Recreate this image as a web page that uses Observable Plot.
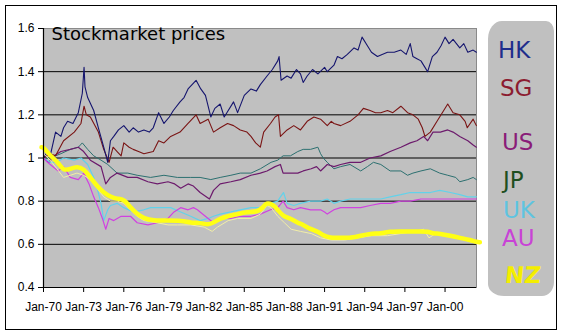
<!DOCTYPE html>
<html>
<head>
<meta charset="utf-8">
<script src="https://cdn.jsdelivr.net/npm/d3@7"></script>
<script src="https://cdn.jsdelivr.net/npm/@observablehq/plot@0.6"></script>
<style>
  html, body { margin: 0; padding: 0; background: #fff; }
  #wrap { position: relative; width: 562px; height: 336px; overflow: hidden; }
  #wrap svg { position: absolute; left: 0; top: 0; }
  #frame { position: absolute; left: 5px; top: 5px; width: 550px; height: 323px; border: 1.5px solid #000; pointer-events: none; }
  #blob { position: absolute; left: 488px; top: 21px; width: 66px; height: 275px; background: #c0c0c0;
          border-radius: 14px 8px 12px 16px / 18px 10px 14px 12px; }
  .lg { position: absolute; font-family: "DejaVu Sans", sans-serif; font-size: 23px; line-height: 23px; white-space: nowrap; }
</style>
</head>
<body>
<div id="wrap"></div>
<script>
// ---- axis ticks ----
const xTicks = [1970, 1973, 1976, 1979, 1982, 1985, 1988, 1991, 1994, 1997, 2000];
const xTickLabels = ["Jan-70", "Jan-73", "Jan-76", "Jan-79", "Jan-82", "Jan-85", "Jan-88", "Jan-91", "Jan-94", "Jan-97", "Jan-00"];
const yTicks = [0.4, 0.6, 0.8, 1.0, 1.2, 1.4, 1.6];
const yTickLabels = ["0.4", "0.6", "0.8", "1", "1.2", "1.4", "1.6"];
const gridValues = [0.6, 0.8, 1.0, 1.2, 1.4];
const title = "Stockmarket prices";

// ---- legend ----
const legendLabels = ["HK", "SG", "US", "JP", "UK", "AU", "NZ"];
const legendColors = ["#1f2e8c", "#8c1c30", "#8a1c78", "#1f4f1f", "#5ec4e0", "#c843d6", "#f4ee00"];
const legendTops = [39, 77, 131, 169, 199, 227, 264];
const legendLefts = [498, 500, 502, 503, 503, 502, 505];

// ---- series: [year, index] ----
const hk = [[1970.0,1.00],[1970.3,1.03],[1970.5,1.01],[1970.9,1.12],[1971.3,1.10],[1971.5,1.14],[1971.8,1.17],[1972.2,1.16],[1972.6,1.21],[1972.9,1.30],[1973.03,1.42],[1973.1,1.33],[1973.3,1.28],[1973.75,1.22],[1974.1,1.14],[1974.5,1.05],[1974.8,0.98],[1975.0,1.08],[1975.25,1.10],[1975.6,1.13],[1976.0,1.15],[1976.4,1.12],[1976.7,1.14],[1977.1,1.12],[1977.5,1.13],[1977.9,1.12],[1978.2,1.14],[1978.6,1.21],[1979.0,1.16],[1979.4,1.19],[1979.7,1.22],[1980.2,1.26],[1980.5,1.28],[1980.8,1.32],[1981.1,1.34],[1981.4,1.36],[1981.75,1.32],[1982.1,1.29],[1982.5,1.19],[1982.8,1.23],[1983.2,1.25],[1983.5,1.19],[1983.7,1.21],[1984.2,1.26],[1984.5,1.21],[1985.0,1.29],[1985.5,1.32],[1985.9,1.31],[1986.2,1.34],[1986.7,1.38],[1987.1,1.41],[1987.5,1.45],[1987.6,1.47],[1987.75,1.36],[1988.2,1.38],[1988.5,1.37],[1988.9,1.41],[1989.2,1.39],[1989.4,1.35],[1989.7,1.38],[1990.1,1.41],[1990.5,1.39],[1991.0,1.42],[1991.2,1.40],[1991.7,1.43],[1991.96,1.47],[1992.3,1.46],[1992.7,1.48],[1993.2,1.51],[1993.5,1.50],[1993.8,1.56],[1994.2,1.52],[1994.5,1.49],[1994.95,1.47],[1995.3,1.48],[1995.7,1.49],[1996.2,1.49],[1996.7,1.50],[1997.1,1.48],[1997.4,1.53],[1997.6,1.47],[1997.9,1.46],[1998.2,1.45],[1998.5,1.42],[1998.7,1.40],[1999.05,1.47],[1999.4,1.49],[1999.7,1.52],[2000.0,1.56],[2000.3,1.53],[2000.6,1.55],[2001.1,1.51],[2001.4,1.53],[2001.7,1.49],[2002.1,1.50],[2002.34,1.49]];
const sg = [[1970.0,1.00],[1970.5,1.02],[1970.9,1.01],[1971.5,1.08],[1972.3,1.12],[1972.8,1.16],[1973.03,1.24],[1973.2,1.20],[1973.5,1.19],[1974.1,1.12],[1974.5,1.04],[1974.9,0.98],[1975.2,1.05],[1975.5,1.03],[1975.8,1.01],[1976.0,1.07],[1976.4,1.05],[1976.7,1.04],[1977.1,1.03],[1977.5,1.02],[1978.2,1.03],[1978.6,1.08],[1979.0,1.07],[1979.5,1.10],[1980.2,1.12],[1980.8,1.16],[1981.4,1.20],[1981.7,1.16],[1982.3,1.18],[1982.7,1.12],[1983.2,1.14],[1983.75,1.16],[1984.2,1.15],[1984.7,1.13],[1985.2,1.12],[1985.5,1.10],[1985.85,1.07],[1986.2,1.05],[1986.45,1.12],[1986.96,1.16],[1987.3,1.19],[1987.56,1.20],[1987.7,1.10],[1988.2,1.13],[1988.7,1.15],[1989.2,1.13],[1989.7,1.17],[1990.2,1.19],[1990.7,1.18],[1991.2,1.15],[1991.5,1.17],[1991.7,1.16],[1992.2,1.15],[1992.9,1.17],[1993.5,1.20],[1993.9,1.23],[1994.4,1.22],[1994.8,1.21],[1995.2,1.21],[1995.7,1.22],[1996.1,1.21],[1996.7,1.24],[1997.2,1.21],[1997.6,1.20],[1998.0,1.18],[1998.3,1.14],[1998.5,1.10],[1998.9,1.12],[1999.4,1.17],[1999.9,1.22],[2000.2,1.25],[2000.6,1.21],[2001.1,1.20],[2001.5,1.17],[2001.66,1.14],[2002.1,1.18],[2002.34,1.15]];
const us = [[1970.0,1.00],[1970.4,0.98],[1970.8,1.01],[1971.3,1.03],[1972.0,1.04],[1972.6,1.05],[1973.0,1.03],[1973.5,0.99],[1974.3,0.96],[1974.65,0.88],[1975.0,0.91],[1975.5,0.93],[1976.3,0.91],[1977.0,0.91],[1977.8,0.89],[1978.5,0.88],[1979.3,0.89],[1979.8,0.88],[1980.25,0.86],[1980.8,0.88],[1981.2,0.87],[1981.7,0.84],[1982.4,0.81],[1982.7,0.85],[1983.2,0.88],[1984.0,0.89],[1984.7,0.90],[1985.5,0.92],[1986.2,0.93],[1986.7,0.94],[1987.3,0.96],[1987.7,0.97],[1987.9,0.93],[1988.5,0.93],[1989.0,0.93],[1989.4,0.94],[1990.0,0.95],[1990.4,0.96],[1990.7,0.94],[1991.2,0.97],[1991.7,0.96],[1992.2,0.97],[1992.9,0.98],[1993.7,0.98],[1994.4,1.00],[1995.2,1.01],[1995.9,1.03],[1996.7,1.05],[1997.4,1.07],[1997.9,1.08],[1998.4,1.10],[1998.7,1.08],[1999.1,1.12],[1999.65,1.12],[2000.2,1.13],[2000.6,1.12],[2001.1,1.10],[2001.7,1.08],[2002.1,1.06],[2002.34,1.05]];
const jp = [[1970.0,1.00],[1970.5,1.00],[1971.3,1.02],[1972.0,1.04],[1972.6,1.05],[1972.9,1.07],[1973.3,1.04],[1973.75,1.01],[1974.3,0.99],[1974.8,0.97],[1975.5,0.93],[1976.3,0.93],[1977.0,0.92],[1978.0,0.91],[1979.0,0.92],[1980.0,0.91],[1981.0,0.91],[1981.7,0.91],[1982.5,0.90],[1983.2,0.91],[1984.0,0.92],[1984.7,0.93],[1985.5,0.93],[1986.2,0.95],[1987.0,0.98],[1987.5,0.99],[1987.9,1.01],[1988.45,1.01],[1989.0,1.03],[1989.4,1.04],[1989.95,1.04],[1990.5,1.05],[1990.7,1.02],[1990.9,1.00],[1991.2,0.98],[1991.7,0.95],[1992.2,0.96],[1992.9,0.97],[1993.7,0.94],[1994.2,0.96],[1994.65,0.98],[1995.2,0.97],[1995.9,0.94],[1996.7,0.94],[1997.2,0.92],[1997.6,0.93],[1998.2,0.94],[1998.9,0.95],[1999.6,0.93],[2000.2,0.92],[2000.8,0.91],[2001.1,0.89],[2001.7,0.90],[2002.1,0.91],[2002.34,0.90]];
const uk = [[1970.0,1.00],[1970.5,0.98],[1971.0,0.98],[1971.5,1.00],[1972.3,0.99],[1972.8,1.00],[1973.3,0.97],[1973.75,0.91],[1974.05,0.85],[1974.3,0.79],[1974.5,0.71],[1974.8,0.76],[1975.0,0.78],[1975.5,0.79],[1976.0,0.77],[1976.7,0.75],[1977.5,0.76],[1978.0,0.77],[1978.75,0.77],[1979.5,0.77],[1980.25,0.75],[1981.0,0.73],[1981.7,0.71],[1982.3,0.72],[1982.7,0.73],[1983.2,0.74],[1984.0,0.75],[1984.7,0.76],[1985.5,0.77],[1986.2,0.77],[1986.96,0.79],[1987.5,0.80],[1987.7,0.82],[1987.93,0.84],[1988.2,0.79],[1988.7,0.78],[1989.2,0.79],[1989.95,0.80],[1990.7,0.80],[1991.2,0.81],[1991.7,0.79],[1992.2,0.80],[1992.9,0.81],[1993.7,0.81],[1994.4,0.81],[1995.2,0.81],[1995.9,0.82],[1996.7,0.83],[1997.4,0.84],[1998.2,0.84],[1998.9,0.84],[1999.6,0.85],[2000.4,0.84],[2001.1,0.83],[2001.7,0.82],[2002.34,0.82]];
const au = [[1970.0,1.00],[1970.3,0.98],[1971.1,0.94],[1971.5,0.96],[1972.0,0.91],[1972.6,0.90],[1973.0,0.93],[1973.4,0.88],[1973.75,0.82],[1974.1,0.77],[1974.4,0.72],[1974.65,0.67],[1974.9,0.72],[1975.25,0.71],[1975.8,0.73],[1976.5,0.73],[1977.0,0.70],[1977.8,0.69],[1978.5,0.70],[1979.3,0.72],[1979.75,0.75],[1980.25,0.77],[1980.8,0.76],[1981.2,0.77],[1981.5,0.76],[1981.7,0.75],[1982.3,0.72],[1982.7,0.70],[1983.2,0.72],[1984.0,0.72],[1984.7,0.73],[1985.5,0.73],[1986.2,0.74],[1986.96,0.76],[1987.5,0.77],[1987.9,0.80],[1988.2,0.77],[1988.7,0.76],[1989.2,0.77],[1989.95,0.76],[1990.7,0.76],[1991.0,0.75],[1991.2,0.74],[1991.7,0.76],[1992.2,0.77],[1992.9,0.77],[1993.7,0.77],[1994.4,0.78],[1995.2,0.79],[1995.9,0.79],[1996.7,0.80],[1997.4,0.80],[1998.2,0.81],[1998.9,0.81],[1999.6,0.81],[2000.4,0.81],[2001.1,0.81],[2002.34,0.81]];
const nzRaw = [[1970.0,1.02],[1970.5,0.99],[1971.0,0.95],[1971.5,0.91],[1972.0,0.92],[1972.5,0.93],[1973.0,0.92],[1973.5,0.90],[1974.0,0.86],[1974.5,0.82],[1975.0,0.80],[1975.5,0.80],[1976.0,0.79],[1976.5,0.76],[1977.0,0.73],[1977.5,0.71],[1978.5,0.70],[1979.3,0.69],[1980.0,0.69],[1981.0,0.69],[1982.0,0.68],[1982.6,0.66],[1983.0,0.68],[1983.8,0.71],[1984.5,0.72],[1985.5,0.72],[1986.2,0.74],[1986.7,0.78],[1987.0,0.77],[1987.5,0.73],[1988.0,0.70],[1988.5,0.67],[1989.2,0.66],[1990.0,0.65],[1990.7,0.63],[1991.5,0.62],[1992.5,0.62],[1993.5,0.63],[1994.5,0.64],[1995.7,0.64],[1996.7,0.65],[1997.8,0.66],[1998.4,0.67],[1998.8,0.63],[1999.3,0.65],[2000.2,0.64],[2001.0,0.63],[2002.0,0.61],[2002.34,0.61]];
const nz = [[1969.85,1.05],[1970.0,1.05],[1970.5,1.01],[1971.1,0.98],[1971.5,0.94],[1972.0,0.95],[1972.5,0.96],[1973.0,0.95],[1973.5,0.91],[1974.0,0.87],[1974.5,0.84],[1975.0,0.82],[1975.5,0.81],[1976.0,0.81],[1976.5,0.77],[1977.0,0.74],[1977.5,0.72],[1978.2,0.71],[1979.3,0.71],[1980.3,0.71],[1981.0,0.70],[1981.7,0.70],[1982.3,0.69],[1982.7,0.70],[1983.2,0.72],[1983.75,0.73],[1984.5,0.74],[1985.2,0.75],[1986.0,0.75],[1986.4,0.77],[1986.6,0.79],[1986.9,0.79],[1987.2,0.78],[1987.5,0.76],[1987.9,0.73],[1988.45,0.72],[1989.0,0.70],[1989.4,0.69],[1989.95,0.67],[1990.5,0.66],[1990.9,0.64],[1991.4,0.63],[1992.2,0.63],[1993.0,0.63],[1993.7,0.64],[1994.4,0.65],[1995.2,0.65],[1995.9,0.66],[1996.7,0.66],[1997.4,0.66],[1998.2,0.66],[1998.7,0.66],[1999.1,0.65],[1999.6,0.65],[2000.4,0.64],[2001.1,0.63],[2001.9,0.62],[2002.4,0.61],[2002.6,0.61]];

const lineColors = {HK: "#15156e", SG: "#7a1414", US: "#6c1a6c", JP: "#2c7070", UK: "#62d2ea", AU: "#d042e0", NZ: "#ffff14", NZraw: "#f2eea6"};

const X = d => d[0], Y = d => d[1];
const chart = Plot.plot({
  width: 562,
  height: 336,
  marginLeft: 43,
  marginRight: 86,
  marginTop: 28,
  marginBottom: 49,
  style: {fontFamily: "'Liberation Sans', Arial, sans-serif", fontSize: "12px", background: "transparent", overflow: "visible"},
  x: {type: "linear", domain: [1970, 2002.35]},
  y: {domain: [0.4, 1.6]},
  marks: [
    Plot.frame({fill: "#c0c0c0", stroke: "#8a8a8a"}),
    Plot.ruleY(gridValues, {stroke: "#000", strokeWidth: 1}),
    Plot.line(jp, {x: X, y: Y, stroke: lineColors.JP, strokeWidth: 1}),
    Plot.line(us, {x: X, y: Y, stroke: lineColors.US, strokeWidth: 1.2}),
    Plot.line(uk, {x: X, y: Y, stroke: lineColors.UK, strokeWidth: 1.2}),
    Plot.line(au, {x: X, y: Y, stroke: lineColors.AU, strokeWidth: 1.2}),
    Plot.line(sg, {x: X, y: Y, stroke: lineColors.SG, strokeWidth: 1.1}),
    Plot.line(hk, {x: X, y: Y, stroke: lineColors.HK, strokeWidth: 1.1}),
    Plot.line(nzRaw, {x: X, y: Y, stroke: lineColors.NZraw, strokeWidth: 1}),
    Plot.line(nz, {x: X, y: Y, stroke: lineColors.NZ, strokeWidth: 4.5, curve: "basis"}),
    Plot.ruleX([1970], {stroke: "#000", strokeWidth: 1.2}),
    Plot.ruleY([0.4], {stroke: "#000", strokeWidth: 1.2}),
    Plot.axisY({ticks: yTicks, tickFormat: d => yTickLabels[yTicks.indexOf(d)], tickSize: 5, tickPadding: 4, label: null, fontSize: 12}),
    Plot.axisX({ticks: xTicks, tickFormat: d => xTickLabels[xTicks.indexOf(d)], tickSize: 5, tickPadding: 10, label: null, fontSize: 12}),
    Plot.text([title], {frameAnchor: "top-left", dx: 8, dy: -1, lineAnchor: "top", textAnchor: "start", fontSize: 18, fontFamily: "'DejaVu Sans', sans-serif", fill: "#000"})
  ]
});

const wrap = document.getElementById("wrap");
const blob = document.createElement("div");
blob.id = "blob";
wrap.appendChild(blob);
wrap.appendChild(chart);
legendLabels.forEach((lab, i) => {
  const el = document.createElement("div");
  el.className = "lg";
  el.textContent = lab;
  el.style.left = legendLefts[i] + "px";
  el.style.top = legendTops[i] + "px";
  el.style.color = legendColors[i];
  if (lab === "NZ") { el.style.fontWeight = "bold"; el.style.transform = "skewX(-6deg)"; }
  wrap.appendChild(el);
});
const frame = document.createElement("div");
frame.id = "frame";
wrap.appendChild(frame);
</script>
</body>
</html>
